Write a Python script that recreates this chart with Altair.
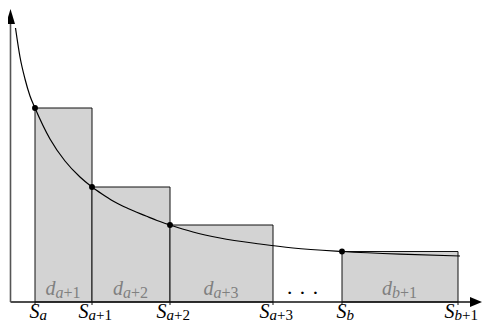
import altair as alt
import pandas as pd

# ---- chart values (abstract units) ----
s_subs = ["a", "a+1", "a+2", "a+3", "b", "b+1"]
s_pos = [2.7, 8.4, 16.2, 26.5, 33.4, 45.0]

rect_left = [2.7, 8.4, 16.2, 33.4]
rect_right = [8.4, 16.2, 26.5, 45.0]
rect_height = [19.4, 11.5, 7.7, 5.05]
d_subs = ["a+1", "a+2", "a+3", "b+1"]

curve_x = [0.75, 1.2, 1.7, 2.2, 2.7, 4.2, 5.7, 7.2, 8.4, 9.4, 10.5, 12.0, 13.8,
           14.9, 16.2, 18.5, 21.2, 25.2, 28.5, 33.4, 39.2, 45.2]
curve_y = [27.4, 24.5, 22.3, 20.6, 19.4, 16.3, 14.1, 12.5, 11.5, 10.8, 10.1, 9.35, 8.6,
           8.15, 7.7, 7.0, 6.4, 5.8, 5.4, 5.05, 4.78, 4.6]

W, H = 474, 315
X_DOMAIN = [0, 47.4]
Y_DOMAIN = [-2.1, 29.4]
PX = W / (X_DOMAIN[1] - X_DOMAIN[0])  # pixels per x unit

xs = alt.Scale(domain=X_DOMAIN, nice=False, zero=False)
ys = alt.Scale(domain=Y_DOMAIN, nice=False, zero=False)
SERIF = "Liberation Serif"
AXIS_X = 0.25

def X(f="x"):
    return alt.X(f"{f}:Q", scale=xs, axis=None)

def Y(f="y"):
    return alt.Y(f"{f}:Q", scale=ys, axis=None)

# ---- tables ----
rects = pd.DataFrame({"l": rect_left, "r": rect_right, "y": [0] * 4, "h": rect_height})
pts = pd.DataFrame({"x": rect_left, "y": rect_height})
curve = pd.DataFrame({"x": curve_x, "y": curve_y})

def split(sub):
    return sub[0], sub[1:]

s_rows = []
for s, sub in zip(s_pos, s_subs):
    letter, suffix = split(sub)
    w_sub = 7.5 + (16 if suffix else 0)
    dx = (10.5 - w_sub) / 2 + 3
    xa = s + dx / PX
    s_rows.append({"xa": xa, "xs": xa + 7.5 / PX, "letter": letter, "suffix": suffix,
                   "tick": s})
s_df = pd.DataFrame(s_rows)

d_rows = []
for l, r, sub in zip(rect_left, rect_right, d_subs):
    letter, suffix = split(sub)
    c = (l + r) / 2
    w_sub = 8 + (17 if suffix else 0)
    dx = (10 - w_sub) / 2 - 0.5
    xa = c + dx / PX
    d_rows.append({"xa": xa, "xs": xa + 8 / PX, "letter": letter, "suffix": suffix})
d_df = pd.DataFrame(d_rows)

# ---- layers ----
rect_layer = alt.Chart(rects).mark_rect(fill="#d3d3d3", stroke="#111", strokeWidth=1).encode(
    x=X("l"), x2="r", y=Y("y"), y2="h")

ticks = alt.Chart(s_df).mark_rule(color="#111", strokeWidth=1).encode(
    x=X("tick"), y=Y("y0"), y2="y1").transform_calculate(y0="0", y1="-0.3")

x_axis = alt.Chart(pd.DataFrame({"x": [AXIS_X], "x2": [46.4], "y": [0]})).mark_rule(
    color="#111", strokeWidth=1.3).encode(x=X("x"), x2="x2", y=Y("y"))
y_axis = alt.Chart(pd.DataFrame({"x": [AXIS_X], "y": [0], "y2": [28.2]})).mark_rule(
    color="#555", strokeWidth=1.6).encode(x=X("x"), y=Y("y"), y2="y2")

arrow_r = alt.Chart(pd.DataFrame({"x": [47.4], "y": [0]})).mark_point(
    shape="M0,0L-0.8,-0.33L-0.8,0.33Z", size=900, filled=True, opacity=1,
    color="black", strokeWidth=0).encode(x=X("x"), y=Y("y"))
arrow_u = alt.Chart(pd.DataFrame({"x": [AXIS_X], "y": [29.3]})).mark_point(
    shape="M0,0L-0.3,1L0.3,1Z", size=900, filled=True, opacity=1,
    color="black", strokeWidth=0).encode(x=X("x"), y=Y("y"))

curve_layer = alt.Chart(curve).mark_line(color="black", strokeWidth=1.2,
                                          interpolate="monotone").encode(x=X("x"), y=Y("y"))
pt_layer = alt.Chart(pts).mark_circle(color="black", size=35, opacity=1).encode(
    x=X("x"), y=Y("y"))

S_main = alt.Chart(s_df).mark_text(text="S", font=SERIF, fontStyle="italic", fontSize=20,
                                   align="right", baseline="alphabetic", color="black").encode(
    x=X("xa"), y=alt.value(H - 5.5))
S_letter = alt.Chart(s_df).mark_text(font=SERIF, fontStyle="italic", fontSize=15,
                                     align="left", baseline="alphabetic", color="black").encode(
    x=X("xa"), y=alt.value(H - 3.5), text="letter:N")
S_suffix = alt.Chart(s_df).mark_text(font=SERIF, fontSize=15,
                                     align="left", baseline="alphabetic", color="black").encode(
    x=X("xs"), y=alt.value(H - 3.5), text="suffix:N")

DGRAY = "#808080"
d_main = alt.Chart(d_df).mark_text(text="d", font=SERIF, fontStyle="italic", fontSize=20,
                                   align="right", baseline="alphabetic", color=DGRAY).encode(
    x=X("xa"), y=Y()).transform_calculate(y="0.75")
d_letter = alt.Chart(d_df).mark_text(font=SERIF, fontStyle="italic", fontSize=16,
                                     align="left", baseline="alphabetic", color=DGRAY).encode(
    x=X("xa"), y=Y(), text="letter:N").transform_calculate(y="0.45")
d_suffix = alt.Chart(d_df).mark_text(font=SERIF, fontSize=16,
                                     align="left", baseline="alphabetic", color=DGRAY).encode(
    x=X("xs"), y=Y(), text="suffix:N").transform_calculate(y="0.45")

dots = alt.Chart(pd.DataFrame({"x": [(rect_right[2] + rect_left[3]) / 2 - 0.5], "y": [0.95]})).mark_text(
    text="· · ·", font=SERIF, fontSize=22, align="center", baseline="middle", color="black").encode(
    x=X("x"), y=Y("y"))

chart = alt.layer(
    rect_layer, ticks, x_axis, y_axis, curve_layer, pt_layer, arrow_r, arrow_u,
    S_main, S_letter, S_suffix, d_main, d_letter, d_suffix, dots
).properties(
    width=W, height=H, autosize=alt.AutoSizeParams(type="none"), padding=0,
    background="white"
).configure_view(stroke=None)

chart.save("out.html", embed_options={"renderer": "svg", "actions": False})
